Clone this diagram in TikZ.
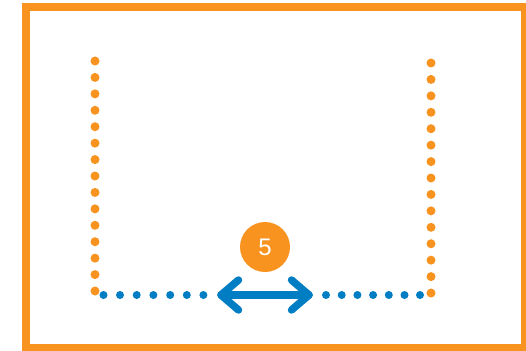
\documentclass[tikz,border=0pt]{standalone}
\usepackage{fontspec}
\setmainfont{Liberation Sans}
\definecolor{myorange}{HTML}{F7931E}
\definecolor{myblue}{HTML}{007DC3}
\tikzset{
  frame/.style={draw=myorange, line width=8pt},
  odot/.style={fill=myorange},
  bdot/.style={fill=myblue},
  arrowarm/.style={draw=myblue, line width=7.5pt, line cap=round, line join=round},
  badge/.style={circle, fill=myorange, minimum size=50pt, inner sep=0pt, text=white, font=\fontsize{24}{24}\selectfont}
}
\begin{document}
\begin{tikzpicture}[x=1pt, y=-1pt]
\useasboundingbox (0,0) rectangle (526,350);
\clip (0,0) rectangle (526,350);
\draw[frame] (26,7) rectangle (525,348);
% orange dotted verticals
\foreach \i in {0,...,14} {
  \fill[odot] (95,{61+\i*16.43}) circle (4.5pt);
  \fill[odot] (431,{63+\i*16.43}) circle (4.5pt);
}
% blue dotted horizontal
\foreach \x in {103.5,120,136.7,153.4,170.2,186.8,203.4} {
  \fill[bdot] (\x,295) circle (4pt);
}
\foreach \x in {326,341.7,357.4,373.1,388.8,404.5,420} {
  \fill[bdot] (\x,295) circle (4pt);
}
% double arrow
\coordinate (L) at (221,295);
\coordinate (R) at (309,295);
\coordinate (LT) at (238.5,280);
\coordinate (LB) at (238.5,310);
\coordinate (RT) at (291.5,280);
\coordinate (RB) at (291.5,310);
\draw[arrowarm] (L) -- (R);
\draw[arrowarm] (LT) -- (L) -- (LB);
\draw[arrowarm] (RT) -- (R) -- (RB);
% badge
\node[badge] (n5) at (265,247) {5};
\end{tikzpicture}
\end{document}
